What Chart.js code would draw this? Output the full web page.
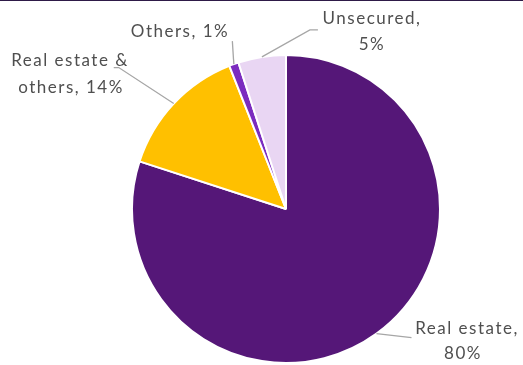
<!DOCTYPE html>
<html>
<head>
<meta charset="utf-8">
<script src="https://cdn.jsdelivr.net/npm/chart.js@4"></script>
<style>
  body { margin: 0; background: #fff; }
  #topline { width: 523px; height: 1px; background: #2E1A47; }
  #wrap { position: relative; width: 523px; height: 364px; }
</style>
</head>
<body>
<div id="topline"></div>
<div id="wrap"><canvas id="grafico"></canvas></div>
<script>
// carteira por tipo de garantia (%)
var categorias = ["Real estate", "Real estate & others", "Others", "Unsecured"];
var valores = [80, 14, 1, 5];
var cores = ["#551778", "#FFC000", "#7B2CBF", "#E9D6F3"];

// texto de cada rótulo, uma linha por item
var rotulos = [
  ["Real estate,", "80%"],
  ["Real estate &", "others, 14%"],
  ["Others, 1%"],
  ["Unsecured,", "5%"]
];

// posição das linhas de chamada (relativa ao meio do arco) e dos textos
var chamadas = [
  [[35, 4]],
  [[-55, -36], [-60, -36]],
  [[-1.5, -23]],
  [[48, -27], [56, -27]]
];
var posTexto = [
  [[467, 328], [463, 353]],
  [[70, 60], [71, 87]],
  [[180, 31]],
  [[372, 18], [372, 44]]
];

var rotulosPizza = {
  id: "rotulosPizza",
  afterDatasetsDraw: function (chart) {
    var ctx = chart.ctx;
    var arcos = chart.getDatasetMeta(0).data;
    ctx.save();
    arcos.forEach(function (arco, i) {
      var p = arco.getProps(["x", "y", "startAngle", "endAngle", "outerRadius"], true);
      var meio = (p.startAngle + p.endAngle) / 2;
      var x0 = p.x + Math.cos(meio) * p.outerRadius;
      var y0 = p.y + Math.sin(meio) * p.outerRadius;
      ctx.strokeStyle = "#A6A6A6";
      ctx.lineWidth = 1.3;
      ctx.beginPath();
      ctx.moveTo(x0, y0);
      chamadas[i].forEach(function (d) {
        ctx.lineTo(x0 + d[0], y0 + d[1]);
      });
      ctx.stroke();

      ctx.fillStyle = "#4F4F4F";
      ctx.font = "17px Lato";
      ctx.letterSpacing = "1.5px";
      ctx.textAlign = "center";
      ctx.textBaseline = "middle";
      rotulos[i].forEach(function (linha, j) {
        var pt = posTexto[i][j];
        ctx.fillText(linha, pt[0], pt[1]);
      });
    });
    ctx.restore();
  }
};

new Chart(document.getElementById("grafico"), {
  type: "pie",
  data: {
    labels: categorias,
    datasets: [{
      data: valores,
      backgroundColor: cores,
      borderColor: "#FFFFFF",
      borderWidth: 2
    }]
  },
  options: {
    responsive: true,
    maintainAspectRatio: false,
    animation: false,
    layout: { padding: { top: 53, bottom: 1, left: 49, right: 0 } },
    plugins: {
      legend: { display: false },
      tooltip: { enabled: false }
    }
  },
  plugins: [rotulosPizza]
});
</script>
</body>
</html>
